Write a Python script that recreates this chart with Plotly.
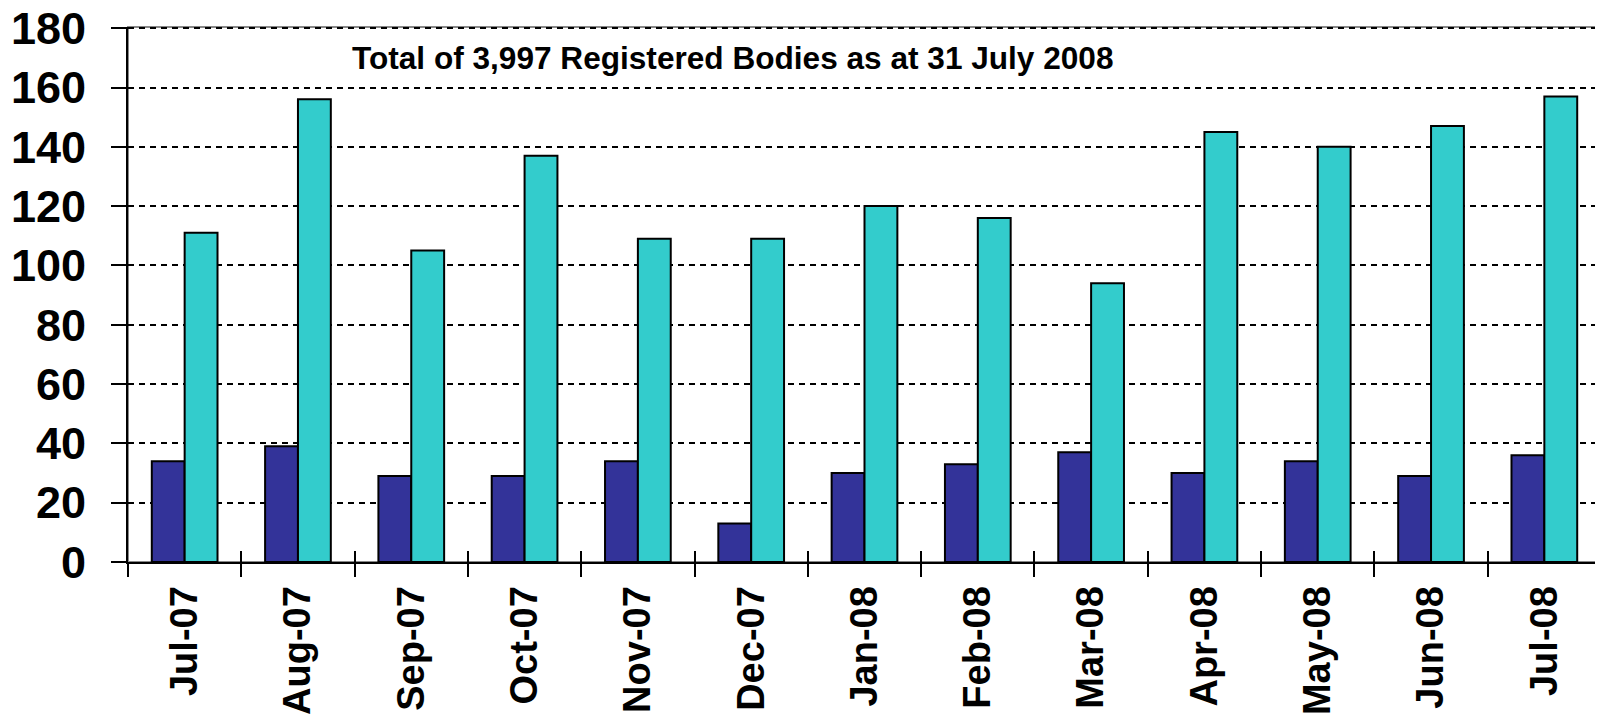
import plotly.graph_objects as go

months = ["Jul-07", "Aug-07", "Sep-07", "Oct-07", "Nov-07", "Dec-07", "Jan-08",
          "Feb-08", "Mar-08", "Apr-08", "May-08", "Jun-08", "Jul-08"]
series_a = [34, 39, 29, 29, 34, 13, 30, 33, 37, 30, 34, 29, 36]
series_b = [111, 156, 105, 137, 109, 109, 120, 116, 94, 145, 140, 147, 157]
y_ticks = [0, 20, 40, 60, 80, 100, 120, 140, 160, 180]
title_text = "Total of 3,997 Registered Bodies as at 31 July 2008"

FONT = "Liberation Sans, Arial, sans-serif"

fig = go.Figure()
fig.add_trace(go.Bar(x=months, y=series_a, marker=dict(color="#333399", line=dict(color="black", width=2)),
                     showlegend=False, hoverinfo="skip"))
fig.add_trace(go.Bar(x=months, y=series_b, marker=dict(color="#33CCCC", line=dict(color="black", width=2)),
                     showlegend=False, hoverinfo="skip"))
# helper invisible trace to populate the overlay axis (inside tick marks)
fig.add_trace(go.Scatter(x=months, y=[0] * len(months), xaxis="x2", mode="markers",
                         marker=dict(opacity=0, size=1), showlegend=False, hoverinfo="skip"))

n = len(months)
fig.update_layout(
    width=1595, height=708,
    margin=dict(l=120, r=2, t=19, b=154, autoexpand=False),
    plot_bgcolor="white", paper_bgcolor="white",
    barmode="group", bargap=0.42, bargroupgap=0,
    xaxis=dict(
        type="category", categoryorder="array", categoryarray=months, range=[-0.5, n - 0.5],
        tickangle=-90, tickson="boundaries", ticks="outside", ticklen=13, tickwidth=2, tickcolor="black",
        showline=True, linecolor="black", linewidth=2, showgrid=False,
        tickfont=dict(family=FONT, size=38, color="black", weight="bold"),
        ticklabelstandoff=7, automargin=False,
    ),
    xaxis2=dict(
        type="category", overlaying="x", matches="x", side="bottom",
        tickson="boundaries", ticks="inside", ticklen=11, tickwidth=2, tickcolor="black",
        showticklabels=False, showline=False, showgrid=False, automargin=False,
    ),
    yaxis=dict(
        range=[0, 180.4], tickvals=y_ticks, ticks="outside", ticklen=15, tickwidth=2, tickcolor="black",
        showline=True, linecolor="black", linewidth=2,
        showgrid=True, gridcolor="black", gridwidth=2.2, griddash="6px,5px", zeroline=False,
        tickfont=dict(family=FONT, size=45, color="black", weight="bold"),
        ticklabelstandoff=16, automargin=False, ticklabeloverflow="allow",
    ),
    shapes=[dict(type="rect", xref="paper", yref="paper", x0=0, x1=1, y0=0, y1=1,
                 line=dict(color="#888888", width=2), layer="below")],
    annotations=[dict(text=title_text, xref="paper", yref="y", x=0.411, y=170,
                      xanchor="center", yanchor="middle", showarrow=False,
                      font=dict(family=FONT, size=31.6, color="black", weight="bold"))],
)

fig.write_html("out.html")
